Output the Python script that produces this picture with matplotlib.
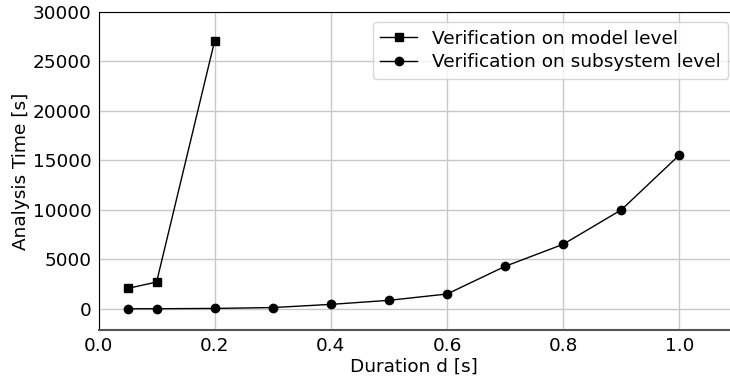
import matplotlib
matplotlib.use('Agg')
import matplotlib.pyplot as plt

# durations [s]
d_model = [0.05, 0.1, 0.2]
t_model = [2050, 2700, 27100]

d_sub = [0.05, 0.1, 0.2, 0.3, 0.4, 0.5, 0.6, 0.7, 0.8, 0.9, 1.0]
t_sub = [0, 0, 30, 120, 440, 850, 1490, 4290, 6520, 10000, 15550]

plt.rcParams['font.family'] = 'DejaVu Sans'
plt.rcParams['font.size'] = 13.3

fig = plt.figure(figsize=(7.3, 3.77), dpi=100)
ax = fig.add_axes([98.5 / 730, 1 - 330 / 377, 1 - 98.5 / 730, (330 - 12) / 377])

ax.plot(d_model, t_model, color='black', marker='s', markersize=6, linewidth=1,
        label='Verification on model level')
ax.plot(d_sub, t_sub, color='black', marker='o', markersize=6, linewidth=1,
        label='Verification on subsystem level')

ax.set_xlim(0, 1.087)
ax.set_ylim(-2150, 30000)
ax.set_xticks([0.0, 0.2, 0.4, 0.6, 0.8, 1.0])
ax.set_yticks([0, 5000, 10000, 15000, 20000, 25000, 30000])
ax.tick_params(length=0, pad=5)
ax.grid(True, color='#c8c8c8', linewidth=1)
ax.set_axisbelow(True)
ax.spines['right'].set_visible(False)
ax.spines['bottom'].set_color('#555555')
ax.spines['bottom'].set_linewidth(1.5)

ax.set_xlabel('Duration d [s]', labelpad=2)
ax.set_ylabel('Analysis Time [s]', labelpad=2)
ax.legend(loc='upper right', bbox_to_anchor=(1.012, 0.997),
          handlelength=2, borderpad=0.4, labelspacing=0.3)

fig.savefig('out.png', dpi=100)
